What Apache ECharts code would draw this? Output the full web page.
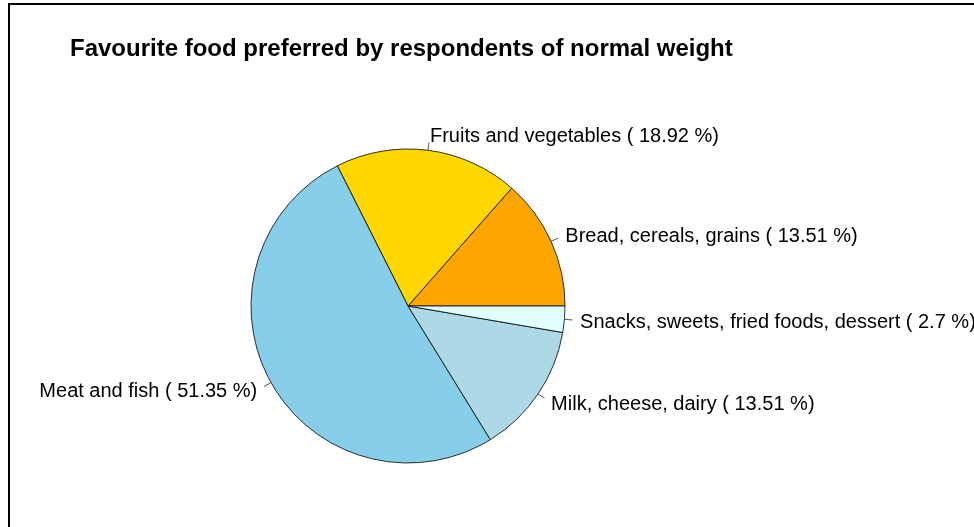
<!DOCTYPE html>
<html>
<head>
<meta charset="utf-8">
<script src="https://cdn.jsdelivr.net/npm/echarts@6/dist/echarts.min.js"></script>
<style>
html,body{margin:0;padding:0;background:#fff;}
#chart{width:974px;height:527px;}
</style>
</head>
<body>
<div id="chart"></div>
<script>
const titleText = 'Favourite food preferred by respondents of normal weight';
const categories = ['Bread, cereals, grains', 'Fruits and vegetables', 'Meat and fish', 'Milk, cheese, dairy', 'Snacks, sweets, fried foods, dessert'];
const percents = [13.51, 18.92, 51.35, 13.51, 2.7];
const colors = ['#FFA500', '#FFD700', '#87CEEB', '#ADD8E6', '#E0FFFF'];

const R = 157;
const chart = echarts.init(document.getElementById('chart'), null, {renderer: 'canvas'});
chart.setOption({
  backgroundColor: '#ffffff',
  animation: false,
  title: {
    text: titleText,
    left: 70,
    top: 37,
    padding: 0,
    textStyle: {fontFamily: 'Liberation Sans', fontWeight: 'bold', fontSize: 24, color: '#000'}
  },
  graphic: [{
    type: 'rect',
    shape: {x: 9, y: 4, width: 2000, height: 2000},
    style: {fill: 'none', stroke: '#000', lineWidth: 2},
    silent: true
  }],
  series: [{
    type: 'pie',
    center: [408, 306],
    radius: R,
    startAngle: 0,
    clockwise: false,
    avoidLabelOverlap: false,
    minAngle: 0,
    data: categories.map((c, i) => ({name: c, value: percents[i], itemStyle: {color: colors[i]}})),
    itemStyle: {borderColor: '#000', borderWidth: 0.8},
    label: {
      show: true,
      position: 'outside',
      formatter: p => p.name + ' ( ' + p.value + ' %)',
      fontFamily: 'Liberation Sans',
      fontSize: 20,
      color: '#000',
      overflow: 'none',
      distanceToLabelLine: 0,
      bleedMargin: -500
    },
    labelLine: {
      show: true,
      length: R * 0.1,
      length2: 0,
      lineStyle: {color: '#555', width: 1}
    },
    labelLayout: function (params) {
      const p = params.labelLinePoints;
      if (!p) return {};
      const m = [(p[0][0] + p[1][0]) / 2, (p[0][1] + p[1][1]) / 2];
      return {labelLinePoints: [p[0], m, m], y: p[1][1] + 1.5};
    },
    emphasis: {disabled: true}
  }]
});
</script>
</body>
</html>
